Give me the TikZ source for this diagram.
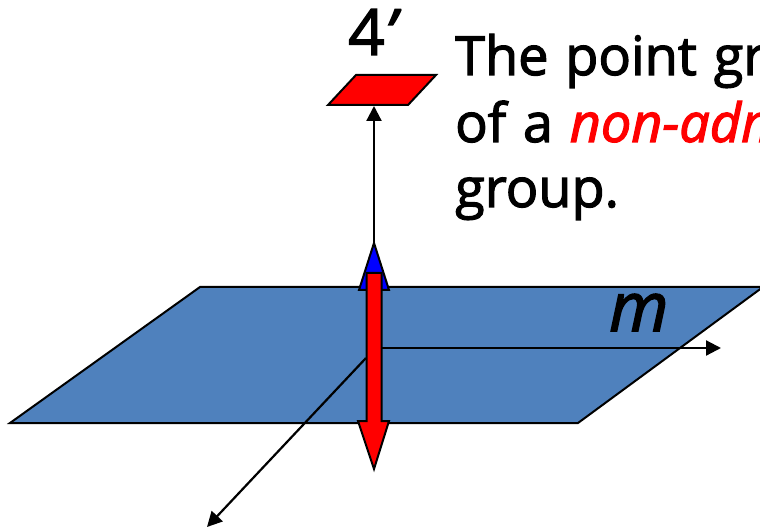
\documentclass[tikz,border=0pt]{standalone}
\usepackage{fontspec}
\setmainfont[FakeBold=2.2,WordSpace=1.2]{Open Sans}
\usetikzlibrary{arrows.meta}
\definecolor{planeblue}{RGB}{79,129,189}
\tikzset{
  shape outline/.style={draw=black,line width=2pt,line join=miter},
  axis/.style={draw=black,line width=2.2pt,-{Triangle[length=15pt,width=15pt]}},
  caption text/.style={anchor=base west,inner sep=0pt,font=\fontsize{54}{60}\selectfont},
}
\begin{document}
\begin{tikzpicture}[x=1pt,y=-1pt]
\useasboundingbox (0,0) rectangle (760,529);
\clip (0,0) rectangle (760,529);
% plane
\draw[shape outline,fill=planeblue] (200,287) -- (763,287) -- (578,423) -- (10,423) -- cycle;
% named anchors
\coordinate (oxh) at (382,348);
\coordinate (xend) at (721,348);
\coordinate (odiag) at (366,358);
\coordinate (yend) at (207,527);
\coordinate (ztop) at (374,250);
% red plate
\draw[shape outline,fill=red] (356,75) -- (436,75) -- (408,105) -- (328,105) -- cycle;
\coordinate (plate) at (374,106);
% axes
\draw[axis] (oxh) -- (xend);
\draw[axis] (odiag) -- (yend);
\draw[axis] (ztop) -- (plate);
% blue arrow head
\draw[shape outline,fill=blue] (374,243) -- (389,290) -- (359,290) -- cycle;
% red arrow
\draw[shape outline,fill=red] (366.5,273) -- (381.5,273) -- (381.5,421) -- (389,421) -- (374,469) -- (358,421) -- (366.5,421) -- cycle;
% labels
\node[caption text,font=\fontsize{64}{64}\selectfont] (fourp) at (348,55) {4{\itshape\symbol{39}}};
\node[caption text] (l1) at (455,75) {The point gr};
\node[caption text] (l2) at (455,142) {of a \textcolor{red}{\itshape non-adm}};
\node[caption text] (l3) at (455,207) {group.};
\node[caption text,font=\fontsize{68}{68}\itshape\selectfont] (mlabel) at (609,331) {m};
\end{tikzpicture}
\end{document}
